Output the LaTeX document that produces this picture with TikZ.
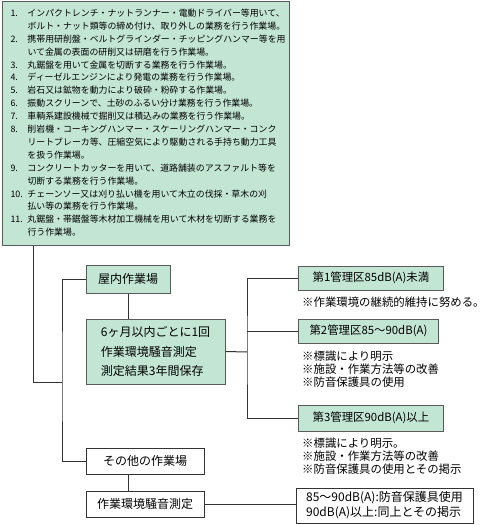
\documentclass[tikz,border=0pt]{standalone}
\usepackage{fontspec}
\setmainfont{Noto Sans CJK JP}
\usetikzlibrary{positioning}
\definecolor{zoneBG}{HTML}{C3E6D4}
\definecolor{zoneBorder}{HTML}{5A5A5A}
\definecolor{linkGray}{HTML}{333333}

\begin{document}
\begin{tikzpicture}[
  x=1pt, y=-1pt,
  box/.style={draw=zoneBorder, fill=zoneBG, line width=1pt, inner sep=0pt, font=\fontsize{12}{19.5}\selectfont},
  plainbox/.style={box, fill=white, draw=linkGray},
  zone/.style={box, font=\fontsize{11.4}{13}\selectfont},
  note/.style={inner sep=0pt, align=left, font=\fontsize{11.4}{13}\selectfont},
  link/.style={draw=linkGray, line width=1pt},
]
  \useasboundingbox (0,0) rectangle (487,525);

  % list of noisy workplaces
  \node[box, anchor=north west, minimum width=287pt, minimum height=244pt, text width=271pt, inner xsep=8pt, align=left, font=\fontsize{8.9}{12.9}\selectfont] (cases) at (2,1) {%
    \begin{tabular}{@{}p{17pt}@{}l@{}}
    1. & インパクトレンチ・ナットランナー・電動ドライバー等用いて、\\
       & ボルト・ナット類等の締め付け、取り外しの業務を行う作業場。\\
    2. & 携帯用研削盤・ベルトグラインダー・チッピングハンマー等を用\\
       & いて金属の表面の研削又は研磨を行う作業場。\\
    3. & 丸鋸盤を用いて金属を切断する業務を行う作業場。\\
    4. & ディーゼルエンジンにより発電の業務を行う作業場。\\
    5. & 岩石又は鉱物を動力により破砕・粉砕する作業場。\\
    6. & 振動スクリーンで、土砂のふるい分け業務を行う作業場。\\
    7. & 車輌系建設機械で掘削又は積込みの業務を行う作業場。\\
    8. & 削岩機・コーキングハンマー・スケーリングハンマー・コンク\\
       & リートブレーカ等、圧縮空気により駆動される手持ち動力工具\\
       & を扱う作業場。\\
    9. & コンクリートカッターを用いて、道路舗装のアスファルト等を\\
       & 切断する業務を行う作業場。\\
    10. & チェーンソー又は刈り払い機を用いて木立の伐採・草木の刈\\
        & 払い等の業務を行う作業場。\\
    11. & 丸鋸盤・帯鋸盤等木材加工機械を用いて木材を切断する業務を\\
        & 行う作業場。
    \end{tabular}};

  % left column
  \node[box, minimum width=84pt, minimum height=28pt] (indoor) at (128,279) {屋内作業場};
  \node[box, minimum width=139pt, minimum height=65pt, align=left] (periodic) at (155.5,351.5) {6ヶ月以内ごとに1回\\作業環境騒音測定\\測定結果3年間保存};
  \node[plainbox, minimum width=118pt, minimum height=26pt] (other) at (145,461) {その他の作業場};
  \node[plainbox, minimum width=118pt, minimum height=26pt] (measure) at (145,504) {作業環境騒音測定};

  % control classes
  \node[zone, anchor=west, minimum width=145pt, minimum height=24pt] (class1) at (298,278) {第1管理区85dB(A)未満};
  \node[zone, anchor=west, minimum width=140pt, minimum height=24pt] (class2) at (298,331) {第2管理区85～90dB(A)};
  \node[zone, anchor=west, minimum width=145pt, minimum height=26pt] (class3) at (298,418) {第3管理区90dB(A)以上};

  \node[note, below=6pt of class1.south west, anchor=north west, xshift=4pt] (note1) {※作業環境の継続的維持に努める。};
  \node[note, below=7pt of class2.south west, anchor=north west, xshift=4pt] (note2) {※標識により明示\\※施設・作業方法等の改善\\※防音保護具の使用};
  \node[note, below=6pt of class3.south west, anchor=north west, xshift=4pt] (note3) {※標識により明示。\\※施設・作業方法等の改善\\※防音保護具の使用とその掲示};

  \node[plainbox, minimum width=177pt, minimum height=35pt, align=left, font=\fontsize{12}{15}\selectfont] (result) at (384.5,505.5) {85～90dB(A):防音保護具使用\\90dB(A)以上:同上とその掲示};

  % connectors
  \coordinate (bend) at (62,382);
  \coordinate (split) at (247,352);
  \draw[link] ([xshift=31pt]cases.south west) |- (bend);
  \draw[link] (indoor.west) -| (bend) |- (other.west);
  \draw[link] (indoor.south) -- (periodic.north -| indoor.south);
  \draw[link] (periodic.east) -- (split);
  \draw[link] (class1.west) -| (split) |- (class3.west);
  \draw[link] (class2.west) -- (class2.west -| split);
  \draw[link] (other.south -| indoor.south) -- (measure.north -| indoor.south);
  \draw[link] (measure.east) -- (measure.east -| result.west);
\end{tikzpicture}
\end{document}
